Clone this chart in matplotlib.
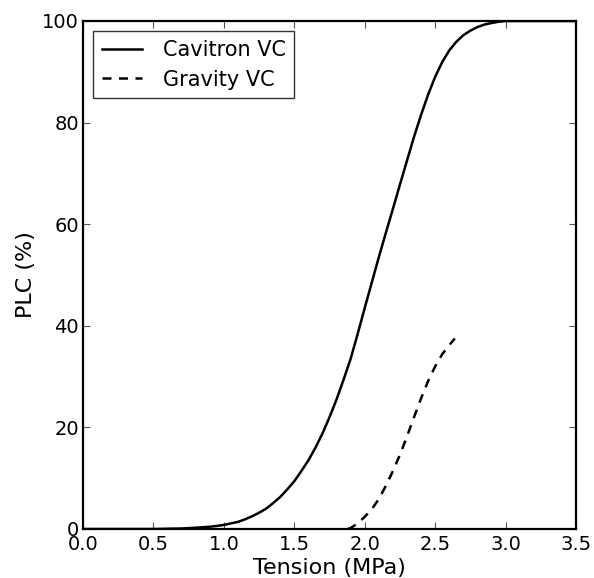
import matplotlib
matplotlib.use("Agg")
import matplotlib.pyplot as plt

# Cavitron vulnerability curve
cav_tension = [0.0, 0.5, 0.6, 0.7, 0.8, 0.9, 0.95, 1.0, 1.05, 1.1, 1.15, 1.2, 1.25,
               1.3, 1.35, 1.4, 1.45, 1.5, 1.55, 1.6, 1.65, 1.7, 1.75, 1.8, 1.85,
               1.9, 1.95, 2.0, 2.05, 2.1, 2.15, 2.2, 2.25, 2.3, 2.35, 2.4, 2.45,
               2.5, 2.55, 2.6, 2.65, 2.7, 2.75, 2.8, 2.85, 2.9, 2.95, 3.0, 3.5]
cav_plc = [0, 0, 0.05, 0.1, 0.25, 0.45, 0.6, 0.8, 1.1, 1.4, 1.9, 2.5, 3.2,
           4.0, 5.1, 6.3, 7.8, 9.4, 11.4, 13.5, 16.0, 18.8, 22.0, 25.5, 29.4,
           33.5, 38.4, 43.5, 48.5, 53.5, 58.3, 63.0, 67.8, 72.5, 77.2, 81.5, 85.5,
           89.0, 91.9, 94.2, 95.9, 97.2, 98.1, 98.8, 99.3, 99.6, 99.85, 100, 100]

# Gravity vulnerability curve
grav_tension = [1.88, 1.9, 1.95, 2.0, 2.05, 2.1, 2.15, 2.2, 2.25, 2.3, 2.35, 2.4,
                2.45, 2.5, 2.55, 2.6, 2.64]
grav_plc = [0, 0.2, 1.1, 2.4, 3.9, 5.9, 8.5, 11.4, 14.6, 18.2, 22.0, 25.7,
            29.1, 32.0, 34.4, 36.2, 37.5]

x_ticks = [0.0, 0.5, 1.0, 1.5, 2.0, 2.5, 3.0, 3.5]
y_ticks = [0, 20, 40, 60, 80, 100]

plt.rcParams['font.family'] = ['DejaVu Sans']
tick_fs = 14
label_fs = 16
legend_fs = 15

fig = plt.figure(figsize=(5.94, 5.78), dpi=100)
ax = fig.add_axes([83/594, 1 - 529/578, (576-83)/594, (529-21)/578])

ax.plot(cav_tension, cav_plc, color='black', lw=1.8, ls='-', label='Cavitron VC',
        solid_joinstyle='round')
ax.plot(grav_tension, grav_plc, color='black', lw=1.8, ls=(0, (3.6, 3.0)),
        label='Gravity VC')

ax.set_xlim(0, 3.5)
ax.set_ylim(0, 100)
ax.set_xticks(x_ticks)
ax.set_xticklabels([f"{t:.1f}" for t in x_ticks])
ax.set_yticks(y_ticks)
ax.set_yticklabels([str(t) for t in y_ticks])
ax.tick_params(direction='in', top=True, right=True, length=5, width=0.8,
               labelsize=tick_fs, pad=4, color='#555555')
ax.tick_params(axis='y', pad=3)
for s in ax.spines.values():
    s.set_linewidth(1.6)

ax.set_xlabel('Tension (MPa)', fontsize=label_fs, labelpad=3)
ax.set_ylabel('PLC (%)', fontsize=label_fs, labelpad=4)

leg = ax.legend(loc='upper left', fontsize=legend_fs, fancybox=False, frameon=True,
                handlelength=1.9, borderaxespad=0.5, handletextpad=1.0,
                borderpad=0.42, labelspacing=0.45)
leg.get_frame().set_edgecolor('black')
leg.get_frame().set_linewidth(1.0)

fig.savefig('out.png', dpi=100)
